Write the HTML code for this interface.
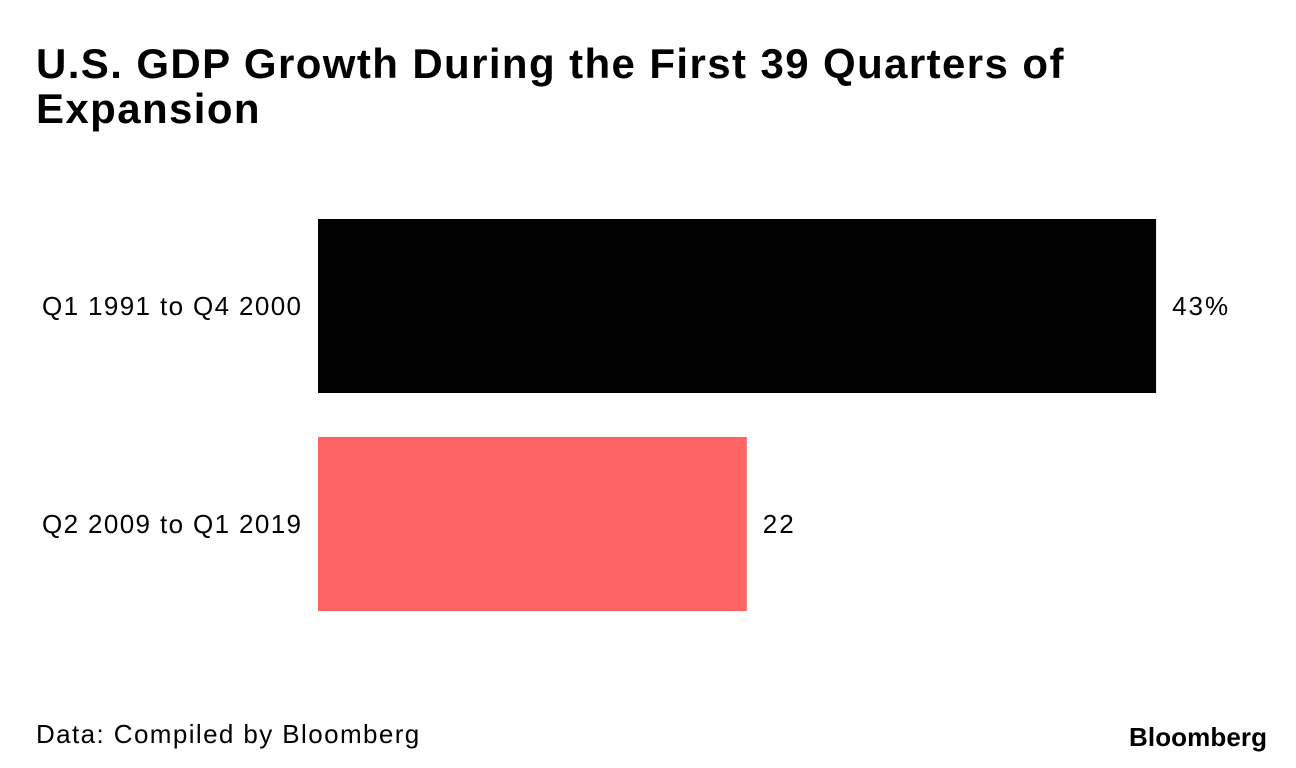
<!DOCTYPE html>
<html><head><meta charset="utf-8"><style>
body{margin:0;width:1296px;height:768px;background:#fff;font-family:"Liberation Sans",sans-serif;overflow:hidden;position:relative}
.t{position:absolute;left:36px;top:41px;font-size:42px;font-weight:bold;line-height:45px;color:#000;letter-spacing:1.4px}
.f{position:absolute;left:36px;top:719px;font-size:26px;color:#000;letter-spacing:1.4px}
.logo{position:absolute;left:1129px;top:722px;font-size:26px;font-weight:bold;letter-spacing:0.1px}
</style></head><body>
<div class="t">U.S. GDP Growth During the First 39 Quarters of<br>Expansion</div>
<svg id="c" width="1296" height="768" style="position:absolute;left:0;top:0"></svg>
<div class="f">Data: Compiled by Bloomberg</div>
<div class="logo">Bloomberg</div>
<script>
const categories=["Q1 1991 to Q4 2000","Q2 2009 to Q1 2019"];
const values=[43,22];
const valueLabels=["43%","22"];
const colors=["#000000","#ff6464"];
const svg=document.getElementById('c');
const NS="http://www.w3.org/2000/svg";
const x0=318,scale=19.49;
function xs(v){return x0+v*scale;}
function ys(i){return 219+i*218;}
const bh=174;
categories.forEach((c,i)=>{
 const r=document.createElementNS(NS,'rect');
 r.setAttribute('x',x0);r.setAttribute('y',ys(i));
 r.setAttribute('width',xs(values[i])-x0);r.setAttribute('height',bh);
 r.setAttribute('fill',colors[i]);
 
 
 svg.appendChild(r);
 const l=document.createElementNS(NS,'text');
 l.setAttribute('x',301);l.setAttribute('y',ys(i)+bh/2+9);
 l.setAttribute('text-anchor','end');l.setAttribute('font-size','26');
 l.setAttribute('textLength','259');l.setAttribute('lengthAdjust','spacing');
 l.setAttribute('font-family','Liberation Sans, sans-serif');
 l.textContent=c;
 
 
 svg.appendChild(l);
 const v=document.createElementNS(NS,'text');
 v.setAttribute('x',xs(values[i])+16);v.setAttribute('y',ys(i)+bh/2+9);
 v.setAttribute('font-size','26');v.setAttribute('letter-spacing','2');
 v.setAttribute('font-family','Liberation Sans, sans-serif');
 v.textContent=valueLabels[i];
 
 
 svg.appendChild(v);
});
</script>
</body></html>
